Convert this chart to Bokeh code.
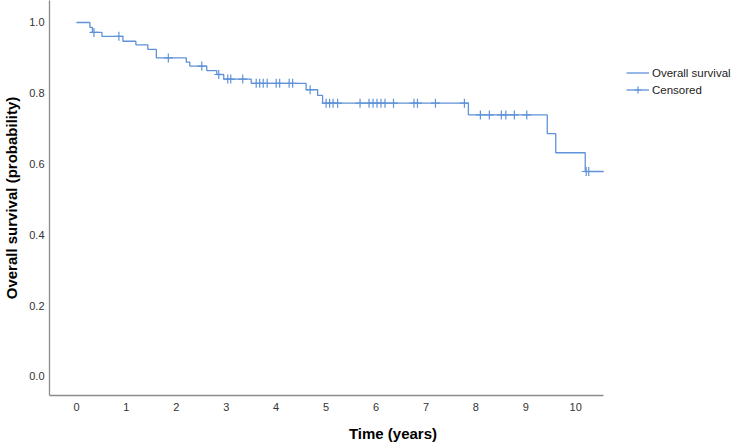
from bokeh.plotting import figure
from bokeh.models import Range1d, FixedTicker, PrintfTickFormatter, Legend, LegendItem
from bokeh.embed import file_html
from bokeh.resources import INLINE

# Kaplan-Meier step data
event_times = [0.0, 0.27, 0.32, 0.51, 0.93, 1.19, 1.43, 1.60, 2.20, 2.27, 2.61, 2.81,
               2.95, 3.50, 4.60, 4.83, 4.93, 7.85, 9.43, 9.60, 10.19]
survival = [1.0, 0.986, 0.972, 0.961, 0.947, 0.937, 0.924, 0.900, 0.888, 0.877, 0.864,
            0.853, 0.840, 0.828, 0.810, 0.794, 0.772, 0.739, 0.686, 0.632, 0.579]
end_time = 10.56
censor_times = [0.35, 0.85, 1.84, 2.51, 2.85, 3.03, 3.09, 3.33, 3.60, 3.67, 3.74, 3.82,
                4.00, 4.07, 4.26, 4.33, 4.68, 5.00, 5.07, 5.14, 5.23, 5.68, 5.86, 5.94,
                6.02, 6.10, 6.18, 6.35, 6.76, 6.83, 7.19, 7.77, 8.09, 8.27, 8.51, 8.60,
                8.77, 9.02, 10.21, 10.26]
x_ticks = [0, 1, 2, 3, 4, 5, 6, 7, 8, 9, 10]
y_ticks = [0.0, 0.2, 0.4, 0.6, 0.8, 1.0]

BLUE = "#5f92d8"
FONT = "Liberation Sans"

def surv_at(t):
    s = survival[0]
    for et, sv in zip(event_times, survival):
        if et <= t:
            s = sv
    return s

step_x = event_times + [end_time]
step_y = survival + [survival[-1]]
cens_y = [surv_at(t) for t in censor_times]

# frame spans to the right edge so the legend (inside the frame) is not clipped;
# the x axis line is limited with bounds
p = figure(width=736, height=444, output_backend="svg", toolbar_location=None,
           x_range=Range1d(-0.54, 13.22), y_range=Range1d(-0.0537, 1.0621),
           min_border_left=48, min_border_right=0, min_border_top=0, min_border_bottom=49)
p.outline_line_color = None
p.xgrid.visible = False
p.ygrid.visible = False
p.background_fill_color = "white"
p.border_fill_color = "white"

step_r = p.step(step_x, step_y, mode="after", line_color=BLUE, line_width=1.3)
cens_r = p.scatter(censor_times, cens_y, marker="cross", size=9, line_color=BLUE, line_width=1.2)

for ax in (p.xaxis[0], p.yaxis[0]):
    ax.axis_line_color = "#8c8c8c"
    ax.axis_line_width = 1.3
    ax.major_tick_line_color = None
    ax.minor_tick_line_color = None
    ax.major_tick_out = 0
    ax.major_tick_in = 0
    ax.major_label_text_font = FONT
    ax.major_label_text_font_size = "11px"
    ax.major_label_text_color = "#333333"
    ax.axis_label_text_font = FONT
    ax.axis_label_text_font_size = "15px"
    ax.axis_label_text_font_style = "bold"
    ax.axis_label_text_color = "#000000"

p.xaxis.bounds = (-0.54, end_time)
p.xaxis.ticker = FixedTicker(ticks=x_ticks)
p.yaxis.ticker = FixedTicker(ticks=y_ticks)
p.yaxis.formatter = PrintfTickFormatter(format="%.1f")
p.xaxis.axis_label = "Time (years)"
p.yaxis.axis_label = "Overall survival (probability)"
p.xaxis.major_label_standoff = 7
p.yaxis.major_label_standoff = 5
p.xaxis.axis_label_standoff = 11
p.yaxis.axis_label_standoff = 6

legend = Legend(items=[LegendItem(label="Overall survival", renderers=[step_r]),
                       LegendItem(label="Censored", renderers=[step_r, cens_r])],
                location=(577, 297), padding=0, margin=0, spacing=0,
                glyph_width=23, glyph_height=17, label_height=17, label_standoff=3,
                label_text_font=FONT, label_text_font_size="11.5px",
                label_text_color="#222222", border_line_color=None,
                background_fill_alpha=0)
p.add_layout(legend, "center")

open("out.html", "w").write(file_html(p, INLINE))
